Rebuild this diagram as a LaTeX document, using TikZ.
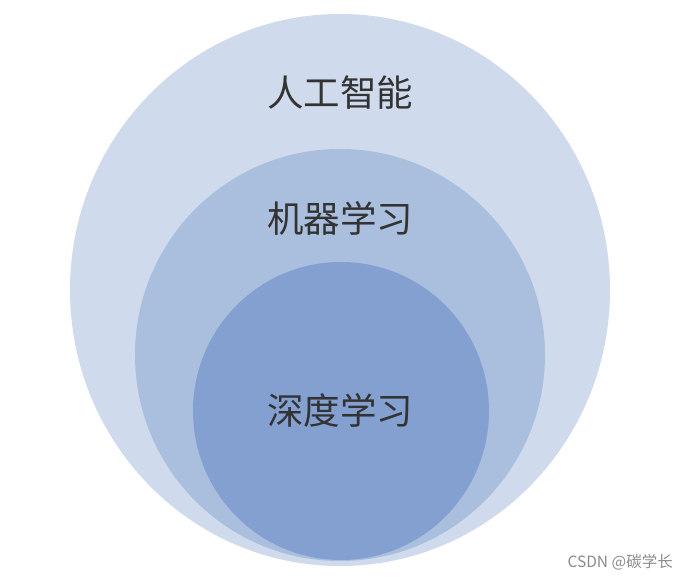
\documentclass[tikz,border=0pt]{standalone}
\usepackage{fontspec}
\newfontfamily\cjk{Noto Sans CJK SC}
\usetikzlibrary{shapes.geometric}
\definecolor{AIOuter}{HTML}{CFDAEC}
\definecolor{AIMiddle}{HTML}{AABEDD}
\definecolor{AIInner}{HTML}{83A0D1}
\definecolor{AIInk}{HTML}{333333}
\definecolor{AIMark}{HTML}{8A8A8A}
\tikzset{
  field/.style={ellipse,draw=none,inner sep=0pt},
  fieldouter/.style={field,fill=AIOuter},
  fieldmiddle/.style={field,fill=AIMiddle},
  fieldinner/.style={field,fill=AIInner},
  fieldname/.style={text=AIInk,font=\cjk\fontsize{36.5}{42}\selectfont,inner sep=0pt},
  watermark/.style={text=AIMark,font=\cjk\fontsize{15.5}{18}\selectfont,inner sep=0pt},
}
\begin{document}
\begin{tikzpicture}[x=1pt,y=1pt]
    \useasboundingbox (0,0) rectangle (689,577);
    \node[fieldouter,minimum width=540pt,minimum height=552pt] (ai) at (340,287) {};
    \node[fieldmiddle,minimum width=410pt,minimum height=412pt] (ml) at (340,222) {};
    \node[fieldinner,minimum width=296pt,minimum height=298pt] (dl) at (341,166) {};

    \node[fieldname] (ailabel) at (340,484) {人工智能};
    \node[fieldname] (mllabel) at (340,359) {机器学习};
    \node[fieldname] (dllabel) at (340,167) {深度学习};

    \node[watermark,anchor=east] (mark) at (673,15) {CSDN @碳学长};
  \end{tikzpicture}
\end{document}
